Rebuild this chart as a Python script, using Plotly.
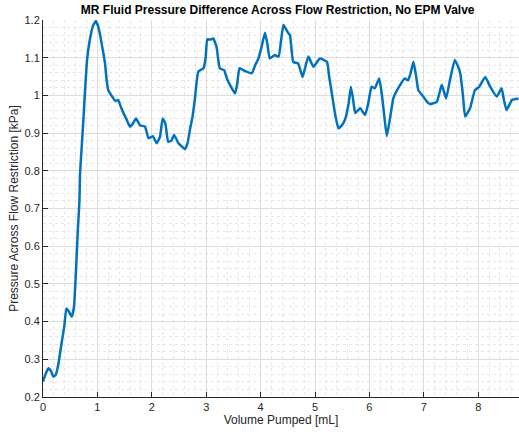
import plotly.graph_objects as go

volume_ml = [0, 0.05, 0.10, 0.15, 0.19, 0.23, 0.28, 0.34, 0.39, 0.43, 0.47, 0.53, 0.57, 0.61, 0.64,
             0.67, 0.68, 0.71, 0.74, 0.77, 0.81, 0.86, 0.92, 0.97, 1.01, 1.05, 1.10, 1.14, 1.17, 1.20,
             1.28, 1.33, 1.38, 1.43, 1.48, 1.54, 1.60, 1.65, 1.71, 1.78, 1.875, 1.94, 2.02, 2.09, 2.15,
             2.20, 2.25, 2.30, 2.36, 2.41, 2.49, 2.55, 2.61, 2.66, 2.70, 2.75, 2.79, 2.855, 2.95, 2.99,
             3.02, 3.08, 3.13, 3.19, 3.25, 3.33, 3.38, 3.44, 3.53, 3.57, 3.61, 3.67, 3.74, 3.84, 3.90,
             3.96, 4.02, 4.08, 4.12, 4.17, 4.26, 4.33, 4.38, 4.42, 4.47, 4.51, 4.54, 4.60, 4.69, 4.77,
             4.83, 4.88, 4.97, 5.09, 5.22, 5.26, 5.31, 5.37, 5.43, 5.49, 5.55, 5.62, 5.66, 5.70, 5.74,
             5.83, 5.92, 5.98, 6.04, 6.10, 6.18, 6.23, 6.27, 6.32, 6.38, 6.44, 6.53, 6.65, 6.71, 6.76,
             6.81, 6.86, 6.90, 6.99, 7.05, 7.11, 7.24, 7.33, 7.41, 7.48, 7.57, 7.62, 7.67, 7.72, 7.76,
             7.85, 7.94, 8.02, 8.13, 8.22, 8.34, 8.43, 8.47, 8.52, 8.62, 8.74]
pressure_kpa = [0.241, 0.262, 0.276, 0.268, 0.254, 0.258, 0.285, 0.342, 0.386, 0.435, 0.428, 0.413,
                0.440, 0.546, 0.643, 0.720, 0.790, 0.860, 0.930, 1.006, 1.094, 1.147, 1.185, 1.197,
                1.185, 1.160, 1.120, 1.085, 1.040, 1.014, 0.995, 0.985, 0.988, 0.970, 0.953, 0.935,
                0.917, 0.925, 0.939, 0.921, 0.917, 0.886, 0.892, 0.873, 0.890, 0.939, 0.925, 0.877,
                0.880, 0.895, 0.873, 0.865, 0.857, 0.875, 0.908, 0.945, 0.988, 1.063, 1.072, 1.100,
                1.149, 1.148, 1.151, 1.129, 1.072, 1.067, 1.045, 1.027, 1.005, 1.030, 1.072, 1.068,
                1.063, 1.059, 1.080, 1.098, 1.130, 1.166, 1.140, 1.098, 1.107, 1.103, 1.150, 1.187,
                1.175, 1.165, 1.160, 1.089, 1.085, 1.049, 1.080, 1.103, 1.076, 1.098, 1.089, 1.050,
                1.005, 0.950, 0.913, 0.920, 0.935, 0.980, 1.023, 0.990, 0.953, 0.966, 0.948, 0.980,
                1.023, 1.019, 1.045, 1.001, 0.950, 0.892, 0.940, 0.992, 1.019, 1.045, 1.040, 1.060,
                1.089, 1.050, 1.014, 0.997, 0.985, 0.977, 0.983, 1.028, 0.992, 1.040, 1.094, 1.080,
                1.059, 1.000, 0.944, 0.966, 1.014, 1.023, 1.049, 1.023, 0.997, 1.019, 0.990, 0.961,
                0.988, 0.992]

x_ticks = [0, 1, 2, 3, 4, 5, 6, 7, 8]
y_ticks = [0.2, 0.3, 0.4, 0.5, 0.6, 0.7, 0.8, 0.9, 1.0, 1.1, 1.2]
y_tick_labels = ["0.2", "0.3", "0.4", "0.5", "0.6", "0.7", "0.8", "0.9", "1", "1.1", "1.2"]

fig = go.Figure()
fig.add_trace(go.Scatter(x=volume_ml, y=pressure_kpa, mode="lines",
                         line=dict(color="#0072BD", width=2.5, shape="spline", smoothing=0.4),
                         showlegend=False))

font = "Liberation Sans, Arial, Helvetica, sans-serif"
fig.update_layout(
    width=519, height=436,
    margin=dict(l=43, r=0, t=20, b=39),
    paper_bgcolor="white", plot_bgcolor="white",
    font=dict(family=font, size=11, color="#262626"),
    title=dict(text="<b>MR Fluid Pressure Difference Across Flow Restriction, No EPM Valve</b>",
               x=0.535, xanchor="center", y=0.978, yanchor="middle",
               font=dict(size=12, color="black")),
    xaxis=dict(range=[0, 8.75], tickvals=x_ticks, showline=True, linecolor="#262626", linewidth=1,
               ticks="inside", ticklen=5, tickcolor="#262626",
               showgrid=True, gridcolor="#dcdcdc", gridwidth=1, zeroline=False,
               minor=dict(dtick=0.2, showgrid=True, gridcolor="#e6e6e6", griddash="dot", ticks=""),
               title=dict(text="Volume Pumped [mL]", standoff=2, font=dict(size=12))),
    yaxis=dict(range=[0.2, 1.2], tickvals=y_ticks, ticktext=y_tick_labels, showline=True,
               linecolor="#262626", linewidth=1, ticks="inside", ticklen=5, tickcolor="#262626",
               showgrid=True, gridcolor="#dcdcdc", gridwidth=1, zeroline=False,
               minor=dict(dtick=0.02, showgrid=True, gridcolor="#e6e6e6", griddash="dot", ticks=""),
               title=dict(text="Pressure Across Flow Restriction [kPa]", standoff=3, font=dict(size=12))),
)
fig.write_html("out.html")
